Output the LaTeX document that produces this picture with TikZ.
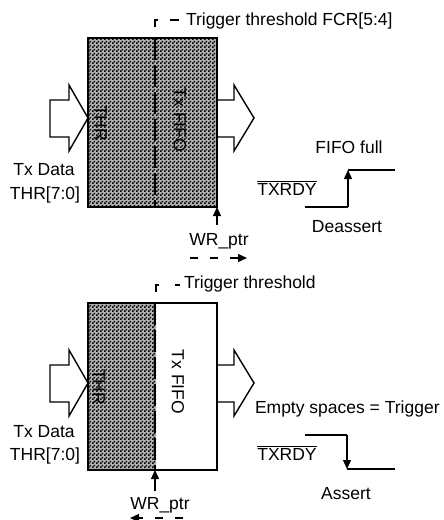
\documentclass[tikz,border=0pt]{standalone}
\usepackage{fontspec}
\setmainfont{Liberation Sans}
\usetikzlibrary{patterns,arrows.meta}
\pgfdeclarepatternformonly{finechecker}{\pgfpointorigin}{\pgfpoint{4pt}{4pt}}{\pgfpoint{4pt}{4pt}}{%
  \pgfpathrectangle{\pgfpointorigin}{\pgfpoint{2pt}{2pt}}%
  \pgfpathrectangle{\pgfpoint{2pt}{2pt}}{\pgfpoint{2pt}{2pt}}%
  \pgfusepath{fill}}
\tikzset{
  lbl/.style={font=\fontsize{17.5}{20}\selectfont, inner sep=0pt, outer sep=0pt},
  fifobox/.style={draw, line width=1.4pt},
  hatch/.style={fill=black!30, postaction={pattern=finechecker}},
  blockarrow/.style={draw, line width=1.4pt, fill=white, line join=miter},
  openarrow/.style={draw, line width=1.4pt, line join=miter},
  sig/.style={line width=1.3pt},
  tipend/.style={-{Triangle[length=9pt,width=8pt]}},
  thrline/.style={dash pattern=on 22pt off 5pt, line width=1.2pt},
}
\begin{document}
\begin{tikzpicture}[x=1pt,y=-1pt]
\useasboundingbox (0,0) rectangle (444,520);

% ================= TOP: FIFO full / Deassert =================
\draw[blockarrow] (50,100) -- (69,100) -- (69,85) -- (88,118) -- (69,151) -- (69,137) -- (50,137) -- cycle;
\path[hatch] (88,38) rectangle (217,207);
\draw[fifobox] (88,38) rectangle (217,207);
\coordinate (boxAbr) at (217,207);
\coordinate (thrAtop) at (155,38);
\coordinate (thrAbot) at (155,207);
\draw[thrline] (thrAtop) -- (thrAbot);
\draw[openarrow] (217,100) -- (234,100) -- (234,85) -- (254,118) -- (234,151) -- (234,137) -- (217,137);
\node[lbl, rotate=-90] (thrA) at (101,123) {THR};
\node[lbl, rotate=-90] (txA) at (180,120) {Tx FIFO};
\coordinate (mkA) at (155,27);
\draw[line width=1.2pt, dash pattern=on 10pt off 12pt on 9pt off 30pt] (mkA) -- (155,20) -- (179,20);
\node[lbl, anchor=base west] (trigA) at (186,25) {Trigger threshold FCR[5:4]};
\node[lbl, anchor=base] (dataA) at (44,175) {Tx Data};
\node[lbl, anchor=base] (thrbitsA) at (45,199) {THR[7:0]};
\coordinate (wrAfoot) at (217,225);
\draw[sig, tipend] (wrAfoot) -- (boxAbr);
\node[lbl, anchor=base] (wrA) at (219,245) {WR\_ptr};
\coordinate (dA1) at (190,258);
\coordinate (dA2) at (247,258);
\draw[sig, dash pattern=on 8pt off 12pt, tipend] (dA1) -- (dA2);
\coordinate (wA1) at (305,207);
\coordinate (wA2) at (348,207);
\coordinate (wA3) at (348,170);
\coordinate (wA4) at (395,170);
\draw[sig] (wA1) -- (wA2);
\draw[sig, tipend] (wA2) -- (wA3);
\draw[sig] (wA3) -- (wA4);
\node[lbl, anchor=base] (rdyA) at (287,195) {$\overline{\mbox{TXRDY}}$};
\node[lbl, anchor=base] (fullA) at (349,153) {FIFO full};
\node[lbl, anchor=base] (deA) at (347,232) {Deassert};

% ================= BOTTOM: Trigger / Assert =================
\draw[blockarrow] (50,365) -- (69,365) -- (69,350) -- (88,383) -- (69,416) -- (69,402) -- (50,402) -- cycle;
\path[hatch] (88,303) rectangle (156,470);
\draw[fifobox] (88,303) rectangle (217,470);
\coordinate (boxBbl) at (155,470);
\coordinate (thrBtop) at (155,303);
\draw[thrline] (thrBtop) -- (boxBbl);
\draw[openarrow] (217,365) -- (234,365) -- (234,350) -- (254,383) -- (234,416) -- (234,402) -- (217,402);
\node[lbl, rotate=-90] (thrB) at (99,387) {THR};
\node[lbl, rotate=-90] (txB) at (178,382) {Tx FIFO};
\coordinate (mkB) at (156,292);
\draw[line width=1.2pt, dash pattern=on 10pt off 16pt on 5pt off 30pt] (mkB) -- (156,285) -- (180,285);
\node[lbl, anchor=base west] (trigB) at (184,288) {Trigger threshold};
\node[lbl, anchor=base] (dataB) at (44,437) {Tx Data};
\node[lbl, anchor=base] (thrbitsB) at (45,460) {THR[7:0]};
\coordinate (wrBfoot) at (155,491);
\draw[sig, tipend] (wrBfoot) -- (boxBbl);
\node[lbl, anchor=base] (wrB) at (160,509) {WR\_ptr};
\coordinate (dB1) at (183,518);
\coordinate (dB2) at (130,518);
\draw[sig, dash pattern=on 8pt off 12pt, tipend] (dB1) -- (dB2);
\node[lbl, anchor=base west] (emptyB) at (255,413) {Empty spaces = Trigger};
\coordinate (wB1) at (305,435);
\coordinate (wB2) at (347,435);
\coordinate (wB3) at (347,469);
\coordinate (wB4) at (395,469);
\draw[sig] (wB1) -- (wB2);
\draw[sig, tipend] (wB2) -- (wB3);
\draw[sig] (wB3) -- (wB4);
\node[lbl, anchor=base] (rdyB) at (287,460) {$\overline{\mbox{TXRDY}}$};
\node[lbl, anchor=base] (asB) at (346,499) {Assert};
\end{tikzpicture}
\end{document}
